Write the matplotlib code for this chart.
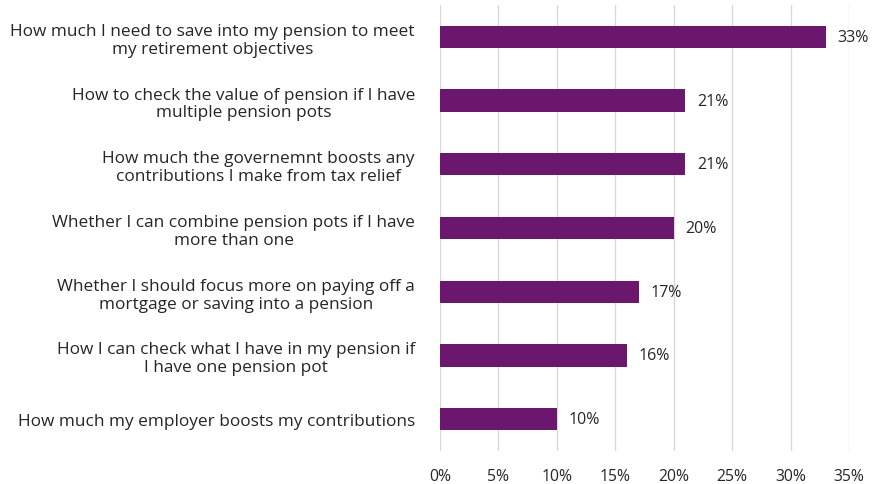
import matplotlib.pyplot as plt
import matplotlib.ticker as ticker

plt.rcParams['font.family'] = ['Open Sans', 'DejaVu Sans']

topics = [
    "How much I need to save into my pension to meet\nmy retirement objectives",
    "How to check the value of pension if I have\nmultiple pension pots",
    "How much the governemnt boosts any\ncontributions I make from tax relief",
    "Whether I can combine pension pots if I have\nmore than one",
    "Whether I should focus more on paying off a\nmortgage or saving into a pension",
    "How I can check what I have in my pension if\nI have one pension pot",
    "How much my employer boosts my contributions",
]
shares = [33, 21, 21, 20, 17, 16, 10]
x_ticks = [0, 5, 10, 15, 20, 25, 30, 35]

bar_color = "#6b176e"
text_color = "#262626"

fig = plt.figure(figsize=(8.78, 4.85), dpi=100)
ax = fig.add_axes([440 / 878, (485 - 452) / 485, (849 - 440) / 878, (452 - 6) / 485])

pos = list(range(len(topics)))
ax.barh(pos, shares, height=0.35, color=bar_color, zorder=3)
for y, v in zip(pos, shares):
    ax.text(v + 1.0, y, f"{v}%", va="center", ha="left", fontsize=11.5, color=text_color)

ax.set_ylim(len(topics) - 0.5, -0.5)
ax.set_xlim(0, 35)
ax.set_yticks(pos)
ax.set_yticklabels(topics, fontsize=12.4, color=text_color, multialignment="center",
                   linespacing=1.15)
ax.set_xticks(x_ticks)
ax.xaxis.set_major_formatter(ticker.FuncFormatter(lambda x, _: f"{x:.0f}%"))
ax.tick_params(axis="x", labelsize=11.3, colors=text_color, length=0, pad=12)
ax.tick_params(axis="y", length=0, pad=18)

ax.grid(axis="x", color="#d9d9d9", linewidth=1, zorder=0)
for spine in ax.spines.values():
    spine.set_visible(False)

fig.savefig("out.png", dpi=100)
